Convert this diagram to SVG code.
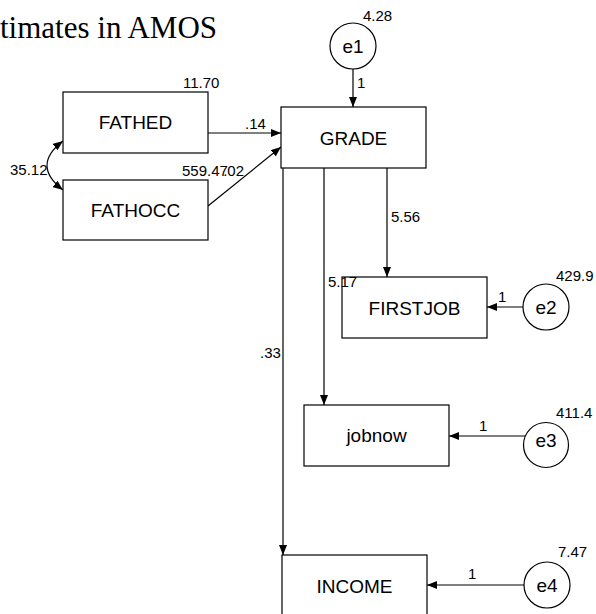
<svg xmlns="http://www.w3.org/2000/svg" width="596" height="614" viewBox="0 0 596 614">
  <style>
    .box { fill: #ffffff; stroke: #000000; stroke-width: 1.2; }
    .err { fill: #ffffff; stroke: #000000; stroke-width: 1.2; }
    .lbl { font-family: "Liberation Sans", Arial, sans-serif; font-size: 19px; fill: #000000; text-anchor: middle; }
    .num { font-family: "Liberation Sans", Arial, sans-serif; font-size: 15px; fill: #000000; }
    .edge { fill: none; stroke: #000000; stroke-width: 1.2; }
    .title { font-family: "Liberation Serif", "Times New Roman", serif; font-size: 31px; fill: #000000; }
  </style>
  <defs>
    <marker id="arr" viewBox="0 0 10 8" refX="10" refY="4" markerWidth="10" markerHeight="8" markerUnits="userSpaceOnUse" orient="auto">
      <path d="M0,0 L10,4 L0,8 Z" fill="#000000"/>
    </marker>
    <marker id="arrStart" viewBox="0 0 10 8" refX="0" refY="4" markerWidth="10" markerHeight="8" markerUnits="userSpaceOnUse" orient="auto">
      <path d="M10,0 L0,4 L10,8 Z" fill="#000000"/>
    </marker>
  </defs>
  <rect width="596" height="614" fill="#ffffff"/>

  <text class="title" x="0" y="38">timates in AMOS</text>

  <!-- paths and covariance -->
  <g id="connectors">
    <path class="edge" d="M63,141 Q31,165.5 63,190" marker-start="url(#arrStart)" marker-end="url(#arr)"/>
    <line class="edge" x1="208" y1="133" x2="281" y2="133" marker-end="url(#arr)"/>
    <line class="edge" x1="208" y1="206" x2="281" y2="147" marker-end="url(#arr)"/>
    <line class="edge" x1="353" y1="69" x2="353" y2="107" marker-end="url(#arr)"/>
    <line class="edge" x1="387" y1="168" x2="387" y2="277" marker-end="url(#arr)"/>
    <line class="edge" x1="324" y1="168" x2="324" y2="405" marker-end="url(#arr)"/>
    <line class="edge" x1="283" y1="168" x2="283" y2="555" marker-end="url(#arr)"/>
    <line class="edge" x1="523" y1="307" x2="487" y2="307" marker-end="url(#arr)"/>
    <line class="edge" x1="525" y1="436" x2="449" y2="436" marker-end="url(#arr)"/>
    <line class="edge" x1="525" y1="585" x2="427" y2="585" marker-end="url(#arr)"/>
  </g>

  <g id="fathed">
    <rect class="box" x="63" y="92" width="145" height="61"/>
    <text class="lbl" x="135.5" y="129">FATHED</text>
    <text class="num" x="183" y="88">11.70</text>
  </g>

  <g id="fathocc">
    <rect class="box" x="63" y="180" width="145" height="60"/>
    <text class="lbl" x="135.5" y="217">FATHOCC</text>
    <text class="num" x="182" y="176">559.47</text>
  </g>

  <g id="grade">
    <rect class="box" x="281" y="107" width="145" height="61"/>
    <text class="lbl" x="353.5" y="145">GRADE</text>
  </g>

  <g id="e1">
    <circle class="err" cx="353" cy="46" r="23"/>
    <text class="lbl" x="353" y="53">e1</text>
    <text class="num" x="363" y="21">4.28</text>
  </g>

  <g id="firstjob">
    <rect class="box" x="342" y="277" width="145" height="61"/>
    <text class="lbl" x="414.5" y="315">FIRSTJOB</text>
  </g>

  <g id="e2">
    <circle class="err" cx="546" cy="307" r="23"/>
    <text class="lbl" x="546" y="314">e2</text>
    <text class="num" x="556" y="281">429.9</text>
  </g>

  <g id="jobnow">
    <rect class="box" x="304" y="405" width="145" height="61"/>
    <text class="lbl" x="376.5" y="442">jobnow</text>
  </g>

  <g id="e3">
    <circle class="err" cx="546" cy="445" r="22.5"/>
    <text class="lbl" x="546" y="447">e3</text>
    <text class="num" x="556" y="418">411.4</text>
  </g>

  <g id="income">
    <rect class="box" x="282" y="555" width="145" height="61"/>
    <text class="lbl" x="354.5" y="593">INCOME</text>
  </g>

  <g id="e4">
    <circle class="err" cx="547" cy="585" r="23"/>
    <text class="lbl" x="547" y="592">e4</text>
    <text class="num" x="558" y="557">7.47</text>
  </g>

  <!-- path coefficients, drawn over the boxes -->
  <g id="edge-labels">
    <text class="num" x="10" y="175">35.12</text>
    <text class="num" x="245" y="129">.14</text>
    <text class="num" x="244" y="176" text-anchor="end">.02</text>
    <text class="num" x="357" y="88">1</text>
    <text class="num" x="391" y="222">5.56</text>
    <text class="num" x="328" y="287">5.17</text>
    <text class="num" x="260" y="358">.33</text>
    <text class="num" x="498" y="302">1</text>
    <text class="num" x="479" y="431">1</text>
    <text class="num" x="468" y="579">1</text>
  </g>
</svg>
